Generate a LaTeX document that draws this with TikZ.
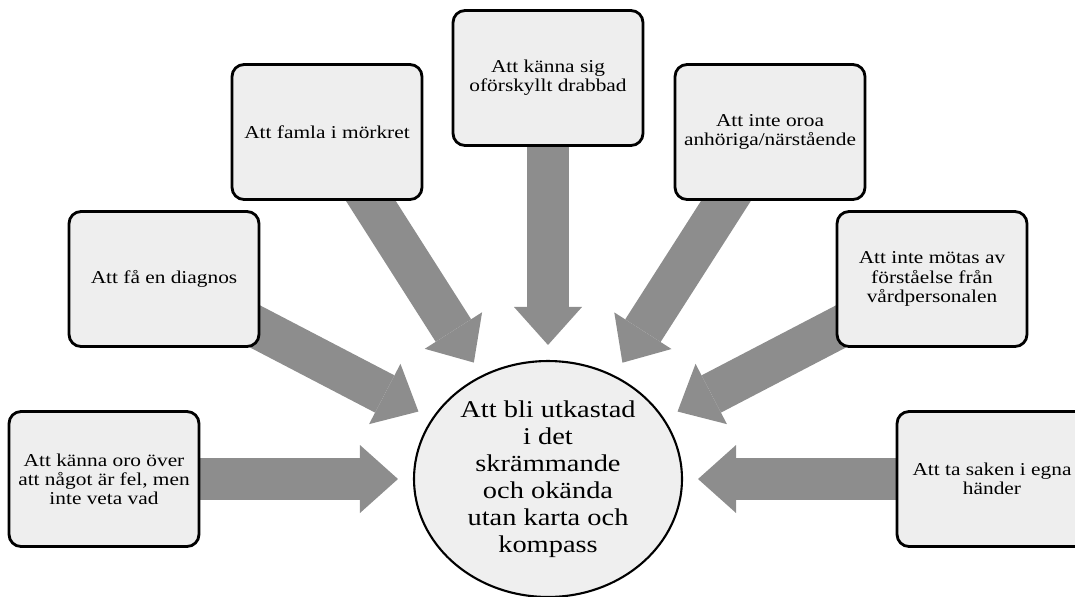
\documentclass[tikz,border=0pt]{standalone}
\usepackage{fontspec}
\setmainfont{Liberation Serif}[FakeStretch=1.18]
\usepackage{xcolor}
\definecolor{BoxColor}{RGB}{238,238,238}
\definecolor{HubColor}{RGB}{239,239,239}
\definecolor{ArrowColor}{RGB}{141,141,141}
\usetikzlibrary{shapes.geometric, arrows.meta, backgrounds}

\begin{document}
\begin{tikzpicture}[
    x=0.02cm, y=-0.02cm,
    box/.style={rectangle, draw, line width=1.6pt, rounded corners=0.24cm, fill=BoxColor, minimum width=3.8cm, minimum height=2.7cm, align=center, inner sep=2pt, font=\fontsize{10.3}{10.9}\selectfont},
    hub/.style={ellipse, draw, line width=1.2pt, fill=HubColor, minimum width=5.36cm, minimum height=4.72cm, inner sep=0pt, align=center, font=\fontsize{13.7}{15.3}\selectfont},
    bigarrow/.style={draw=ArrowColor, line width=0.84cm, -{Triangle[width=1.36cm, length=0.76cm, line width=0pt]}, shorten <=-0.4cm, shorten >=0.3cm},
]
\useasboundingbox (0,0) rectangle (1075,596);

% Centre
\node[hub] (hub) at (548,479) {
    Att bli utkastad\\
    i det\\
    skrämmande\\
    och okända\\
    utan karta och\\
    kompass
};

% Boxes, left to right
\node[box] (oro) at (104,479) {
    Att känna oro över\\
    att något är fel, men\\
    inte veta vad
};
\node[box] (diagnos) at (164,279) {Att få en diagnos};
\node[box] (famla) at (327,132) {Att famla i mörkret};
\node[box] (drabbad) at (548,78) {
    Att känna sig\\
    oförskyllt drabbad
};
\node[box] (oroa) at (770,132) {
    Att inte oroa\\
    anhöriga/närstående
};
\node[box] (vard) at (932,279) {
    Att inte mötas av\\
    förståelse från\\
    vårdpersonalen
};
\node[box] (saken) at (992,479) {
    Att ta saken i egna\\
    händer
};

% Arrows
\begin{pgfonlayer}{background}
\draw[bigarrow] (oro) -- (hub);
\draw[bigarrow] (diagnos) -- (hub);
\draw[bigarrow] (famla) -- (hub);
\draw[bigarrow] (drabbad) -- (hub);
\draw[bigarrow] (oroa) -- (hub);
\draw[bigarrow] (vard) -- (hub);
\draw[bigarrow] (saken) -- (hub);
\end{pgfonlayer}

\end{tikzpicture}
\end{document}
